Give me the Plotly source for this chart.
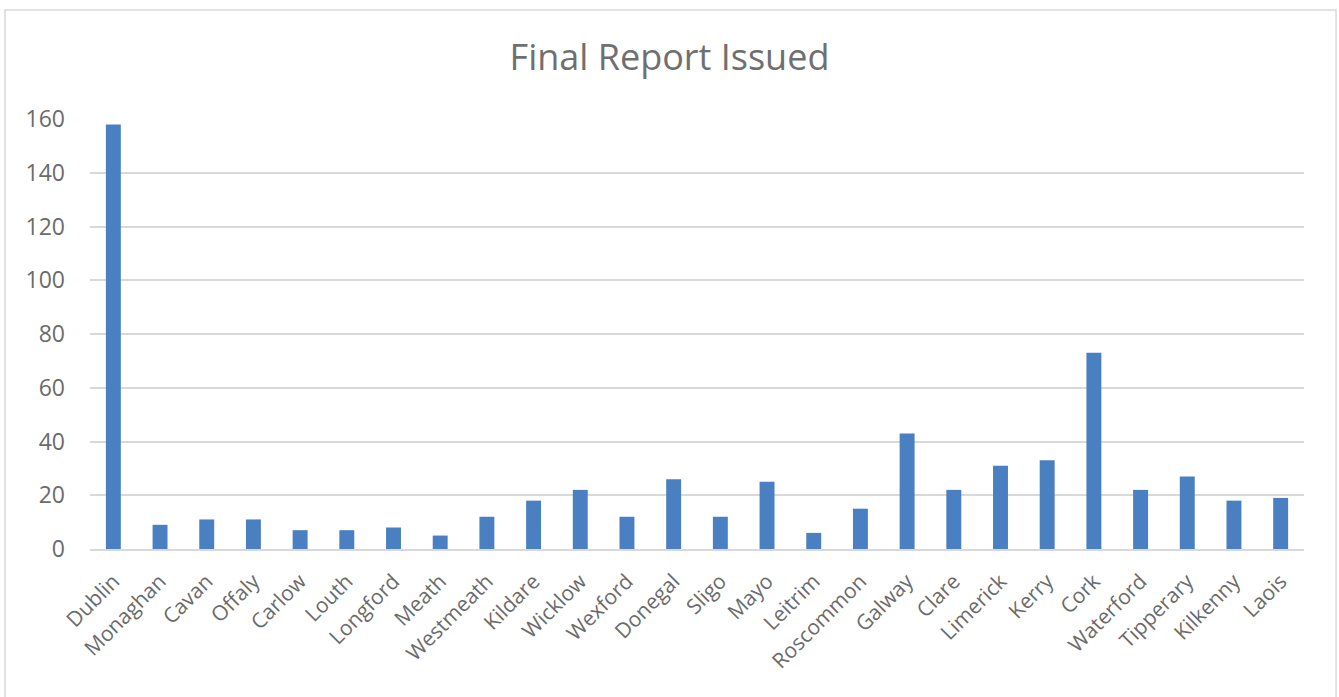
import plotly.graph_objects as go

counties = ["Dublin", "Monaghan", "Cavan", "Offaly", "Carlow", "Louth", "Longford", "Meath",
            "Westmeath", "Kildare", "Wicklow", "Wexford", "Donegal", "Sligo", "Mayo", "Leitrim",
            "Roscommon", "Galway", "Clare", "Limerick", "Kerry", "Cork", "Waterford", "Tipperary",
            "Kilkenny", "Laois"]
reports = [158, 9, 11, 11, 7, 7, 8, 5, 12, 18, 22, 12, 26, 12, 25, 6, 15, 43, 22, 31, 33, 73,
           22, 27, 18, 19]
y_ticks = [0, 20, 40, 60, 80, 100, 120, 140, 160]

fig = go.Figure(go.Bar(x=counties, y=reports, marker=dict(color="#4a80c1", line=dict(width=0)),
                       width=0.32))

fig.update_layout(
    width=1339, height=697,
    margin=dict(l=90, r=35, t=119, b=148),
    paper_bgcolor="white", plot_bgcolor="white",
    font=dict(family="Open Sans, Liberation Sans, sans-serif", color="#6b6b6b"),
    title=dict(text="Final Report Issued", x=0.5, xanchor="center", y=0.917, yanchor="middle",
               font=dict(size=36, color="#6f6f6f")),
    showlegend=False,
    shapes=[dict(type="rect", xref="paper", yref="paper", x0=-0.070, x1=1.0264, y0=-0.6, y1=1.2535,
                 line=dict(color="#d9d9d9", width=1.5), fillcolor="rgba(0,0,0,0)", layer="below")],
)
fig.update_xaxes(tickangle=-45, tickfont=dict(size=21, color="#6b6b6b"), showgrid=False,
                 showline=True, linecolor="#d9d9d9", linewidth=1.5, ticks="",
                 ticklabelstandoff=10)
fig.update_yaxes(range=[0, 160], tickvals=y_ticks, tickfont=dict(size=23, color="#6b6b6b"),
                 gridcolor="#d9d9d9", gridwidth=1.5, zeroline=False, showline=False, ticks="",
                 ticklabelstandoff=24)

fig.write_html("out.html")
